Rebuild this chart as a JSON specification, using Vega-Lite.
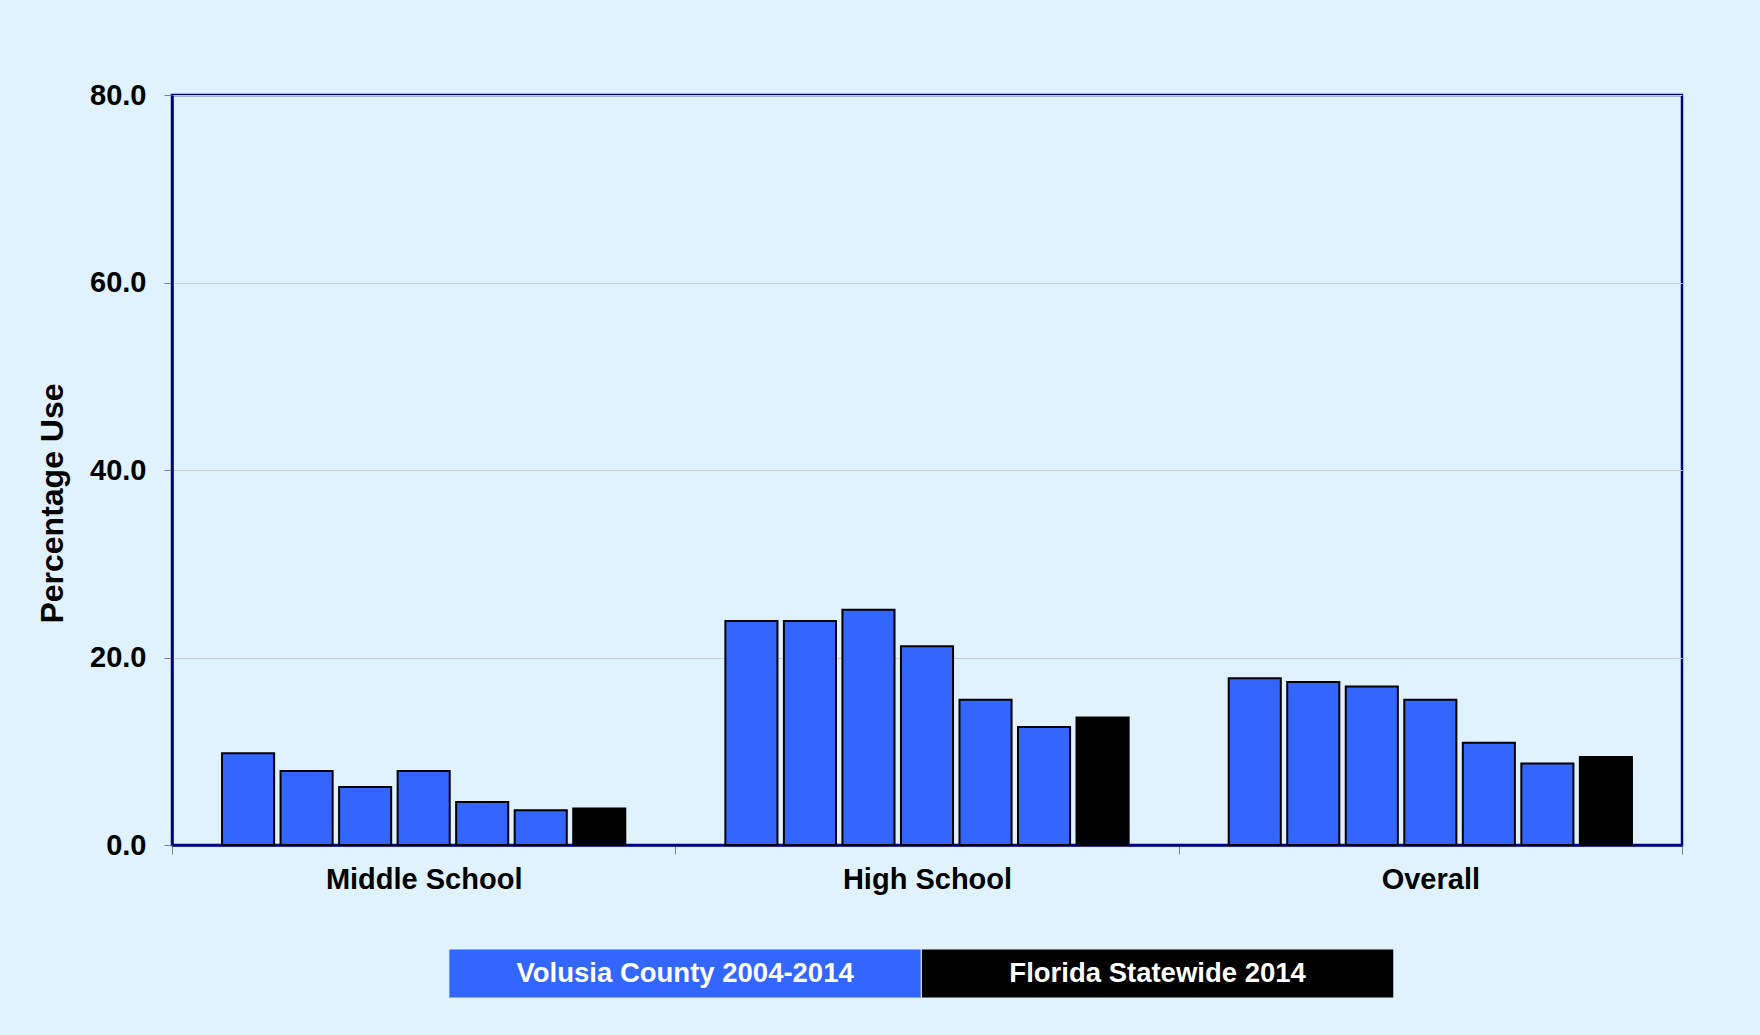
{
  "$schema": "https://vega.github.io/schema/vega-lite/v6.json",
  "background": "#E0F2FE",
  "padding": {"left": 34, "top": 79, "right": 82, "bottom": 41},
  "spacing": 52,
  "config": {
    "font": "Liberation Sans",
    "view": {"stroke": null}
  },
  "vconcat": [
    {
      "width": 1510,
      "height": 750,
      "view": {"stroke": "#000080", "strokeWidth": 2.5},
      "data": {
        "values": [
          {"group": "Middle School", "bar": "V2004", "source": "Volusia County 2004-2014", "value": 9.8},
          {"group": "Middle School", "bar": "V2006", "source": "Volusia County 2004-2014", "value": 7.9},
          {"group": "Middle School", "bar": "V2008", "source": "Volusia County 2004-2014", "value": 6.2},
          {"group": "Middle School", "bar": "V2010", "source": "Volusia County 2004-2014", "value": 7.9},
          {"group": "Middle School", "bar": "V2012", "source": "Volusia County 2004-2014", "value": 4.6},
          {"group": "Middle School", "bar": "V2014", "source": "Volusia County 2004-2014", "value": 3.7},
          {"group": "Middle School", "bar": "F2014", "source": "Florida Statewide 2014", "value": 3.9},
          {"group": "High School", "bar": "V2004", "source": "Volusia County 2004-2014", "value": 23.9},
          {"group": "High School", "bar": "V2006", "source": "Volusia County 2004-2014", "value": 23.9},
          {"group": "High School", "bar": "V2008", "source": "Volusia County 2004-2014", "value": 25.1},
          {"group": "High School", "bar": "V2010", "source": "Volusia County 2004-2014", "value": 21.2},
          {"group": "High School", "bar": "V2012", "source": "Volusia County 2004-2014", "value": 15.5},
          {"group": "High School", "bar": "V2014", "source": "Volusia County 2004-2014", "value": 12.6},
          {"group": "High School", "bar": "F2014", "source": "Florida Statewide 2014", "value": 13.6},
          {"group": "Overall", "bar": "V2004", "source": "Volusia County 2004-2014", "value": 17.8},
          {"group": "Overall", "bar": "V2006", "source": "Volusia County 2004-2014", "value": 17.4},
          {"group": "Overall", "bar": "V2008", "source": "Volusia County 2004-2014", "value": 16.9},
          {"group": "Overall", "bar": "V2010", "source": "Volusia County 2004-2014", "value": 15.5},
          {"group": "Overall", "bar": "V2012", "source": "Volusia County 2004-2014", "value": 10.9},
          {"group": "Overall", "bar": "V2014", "source": "Volusia County 2004-2014", "value": 8.7},
          {"group": "Overall", "bar": "F2014", "source": "Florida Statewide 2014", "value": 9.4}
        ]
      },
      "mark": {"type": "bar", "stroke": "#000000", "strokeWidth": 2},
      "encoding": {
        "x": {
          "field": "group",
          "type": "nominal",
          "sort": ["Middle School", "High School", "Overall"],
          "scale": {"paddingInner": 0, "paddingOuter": 0},
          "axis": {
            "title": null,
            "labelAngle": 0,
            "labelLimit": 0,
            "labelFontSize": 29,
            "labelFontWeight": "bold",
            "labelColor": "#000000",
            "labelPadding": 11,
            "domainColor": "#000080",
            "domainWidth": 2.5,
            "tickColor": "#808080",
            "tickSize": 9,
            "tickWidth": 1,
            "tickBand": "extent"
          }
        },
        "xOffset": {
          "field": "bar",
          "type": "nominal",
          "sort": ["V2004", "V2006", "V2008", "V2010", "V2012", "V2014", "F2014"],
          "scale": {"paddingInner": 0.11, "paddingOuter": 0.855}
        },
        "y": {
          "field": "value",
          "type": "quantitative",
          "scale": {"domain": [0, 80], "nice": false},
          "axis": {
            "title": "Percentage Use",
            "titleFontSize": 32,
            "titleFontWeight": "bold",
            "titleColor": "#000000",
            "titleAngle": -90,
            "titleAlign": "center",
            "titleBaseline": "alphabetic",
            "titleX": -110,
            "titleY": 408,
            "values": [0, 20, 40, 60, 80],
            "format": ".1f",
            "labelFontSize": 29,
            "labelFontWeight": "bold",
            "labelColor": "#000000",
            "labelPadding": 18,
            "tickSize": 8,
            "tickColor": "#808080",
            "domainColor": "#000080",
            "domainWidth": 2.5,
            "grid": true,
            "gridColor": "#C8CDD2",
            "gridWidth": 1
          }
        },
        "color": {
          "field": "source",
          "type": "nominal",
          "scale": {"domain": ["Volusia County 2004-2014", "Florida Statewide 2014"], "range": ["#3366FF", "#000000"]},
          "legend": null
        }
      }
    },
    {
      "width": 1510,
      "height": 49,
      "data": {
        "values": [
          {"source": "Volusia County 2004-2014"},
          {"source": "Florida Statewide 2014"}
        ]
      },
      "encoding": {
        "x": {
          "field": "source",
          "type": "nominal",
          "sort": ["Volusia County 2004-2014", "Florida Statewide 2014"],
          "scale": {"paddingInner": 0, "paddingOuter": 0.598, "align": 0.49},
          "axis": null
        }
      },
      "layer": [
        {
          "mark": {"type": "rect", "stroke": "#E0F2FE", "strokeWidth": 1},
          "encoding": {
            "color": {
              "field": "source",
              "type": "nominal",
              "scale": {"domain": ["Volusia County 2004-2014", "Florida Statewide 2014"], "range": ["#3366FF", "#000000"]},
              "legend": null
            }
          }
        },
        {
          "mark": {"type": "text", "color": "#FFFFFF", "fontSize": 27.5, "fontWeight": "bold", "baseline": "middle", "align": "center"},
          "encoding": {
            "text": {"field": "source", "type": "nominal"}
          }
        }
      ]
    }
  ]
}
